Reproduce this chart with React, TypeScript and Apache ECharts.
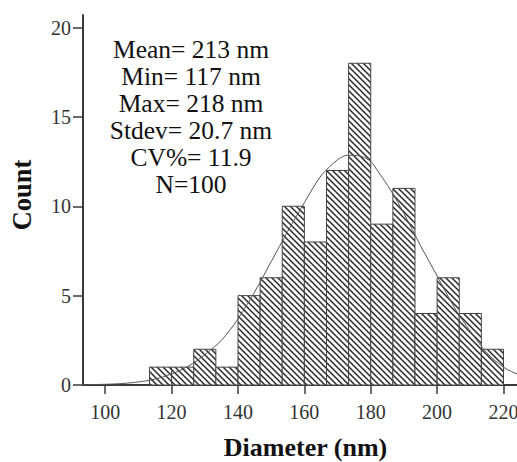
import React, { useEffect, useRef } from "react";
import * as echarts from "echarts";

const binEdges = [113.33, 120, 126.67, 133.33, 140, 146.67, 153.33, 160, 166.67, 173.33, 180, 186.67, 193.33, 200, 206.67, 213.33, 220];
const counts = [1, 1, 2, 1, 5, 6, 10, 8, 12, 18, 9, 11, 4, 6, 4, 2];

const curveX = [93, 100, 105, 110, 115, 120, 125, 130, 135, 140, 145, 150, 155, 160, 165, 170, 173, 177, 180, 182, 186, 190, 195, 200, 205, 210, 215, 220, 225, 231];
const curveY = [0.01, 0.04, 0.08, 0.17, 0.33, 0.62, 1.05, 1.7, 2.5, 3.7, 5.2, 6.9, 8.6, 10.2, 11.7, 12.6, 12.85, 12.8, 12.5, 12.0, 10.9, 9.6, 7.8, 6.1, 4.4, 3.0, 1.8, 1.0, 0.55, 0.25];

const xTicks = [100, 120, 140, 160, 180, 200, 220];
const yTicks = [0, 5, 10, 15, 20];

const statsLines = ["Mean= 213 nm", "Min= 117 nm", "Max= 218 nm", "Stdev= 20.7 nm", "CV%= 11.9", "N=100"];

function makeHatch(): HTMLCanvasElement {
  const s = 6;
  const c = document.createElement("canvas");
  c.width = s;
  c.height = s;
  const ctx = c.getContext("2d")!;
  ctx.fillStyle = "#ffffff";
  ctx.fillRect(0, 0, s, s);
  ctx.strokeStyle = "#2a2a2a";
  ctx.lineWidth = 1.5;
  ctx.beginPath();
  ctx.moveTo(-1, -1);
  ctx.lineTo(s + 1, s + 1);
  ctx.moveTo(-1, s - 1);
  ctx.lineTo(1, s + 1);
  ctx.moveTo(s - 1, -1);
  ctx.lineTo(s + 1, 1);
  ctx.stroke();
  return c;
}

export default function App() {
  const ref = useRef<HTMLDivElement>(null);
  useEffect(() => {
    if (!ref.current) return;
    const chart = echarts.init(ref.current, null, { renderer: "svg" });
    const hatch = makeHatch();
    const binData = counts.map((c, i) => [binEdges[i], binEdges[i + 1], c]);
    const serif = "Liberation Serif";
    chart.setOption({
      animation: false,
      backgroundColor: "#ffffff",
      grid: { left: 83, right: 5, top: 15, bottom: 77, containLabel: false, outerBoundsMode: "none" },
      xAxis: {
        type: "value",
        min: 93.3,
        max: 231,
        name: "Diameter (nm)",
        nameLocation: "middle",
        nameGap: 49,
        nameTextStyle: { fontFamily: serif, fontWeight: "bold", fontSize: 26, color: "#111", padding: [0, 12, 0, 0] },
        axisLine: { show: true, onZero: false, lineStyle: { color: "#3a3a3a", width: 2 } },
        axisTick: { show: true, length: 9, customValues: xTicks, lineStyle: { color: "#3a3a3a", width: 1.5 } },
        axisLabel: { customValues: xTicks, margin: 17, fontFamily: serif, fontSize: 20, color: "#333" },
        splitLine: { show: false },
      },
      yAxis: {
        type: "value",
        min: 0,
        max: 20.7,
        name: "Count",
        nameLocation: "middle",
        nameGap: 48,
        nameRotate: 90,
        nameTextStyle: { fontFamily: serif, fontWeight: "bold", fontSize: 26.5, color: "#111", padding: [0, 0, 0, 10] },
        axisLine: { show: true, lineStyle: { color: "#3a3a3a", width: 2 } },
        axisTick: { show: true, length: 10, customValues: yTicks, lineStyle: { color: "#3a3a3a", width: 1.5 } },
        axisLabel: { customValues: yTicks, margin: 12, fontFamily: serif, fontSize: 20, color: "#333" },
        splitLine: { show: false },
      },
      graphic: [
        {
          type: "text",
          x: 191,
          y: 36,
          style: {
            text: statsLines.join("\n"),
            textAlign: "center",
            fontFamily: serif,
            fontSize: 25.5,
            lineHeight: 27,
            fill: "#111",
          },
          z: 100,
        },
      ],
      series: [
        {
          type: "custom",
          data: binData,
          encode: { x: [0, 1], y: 2 },
          renderItem: (params: any, api: any) => {
            const s = api.coord([api.value(0), 0]);
            const e = api.coord([api.value(1), api.value(2)]);
            return {
              type: "rect",
              shape: { x: s[0], y: e[1], width: e[0] - s[0], height: s[1] - e[1] },
              style: { fill: { image: hatch, repeat: "repeat" }, stroke: "#444", lineWidth: 1 },
            };
          },
          z: 2,
        },
        {
          type: "line",
          data: curveX.map((x, i) => [x, curveY[i]]),
          smooth: 0.3,
          showSymbol: false,
          symbol: "none",
          lineStyle: { color: "#555", width: 1 },
          z: 3,
        },
      ],
    });
    return () => chart.dispose();
  }, []);
  return (
    <div style={{ position: "absolute", left: 0, top: 0, width: 517, height: 462, overflow: "hidden", background: "#fff" }}>
      <div ref={ref} style={{ position: "absolute", left: 0, top: 0, width: 545, height: 462 }} />
    </div>
  );
}
